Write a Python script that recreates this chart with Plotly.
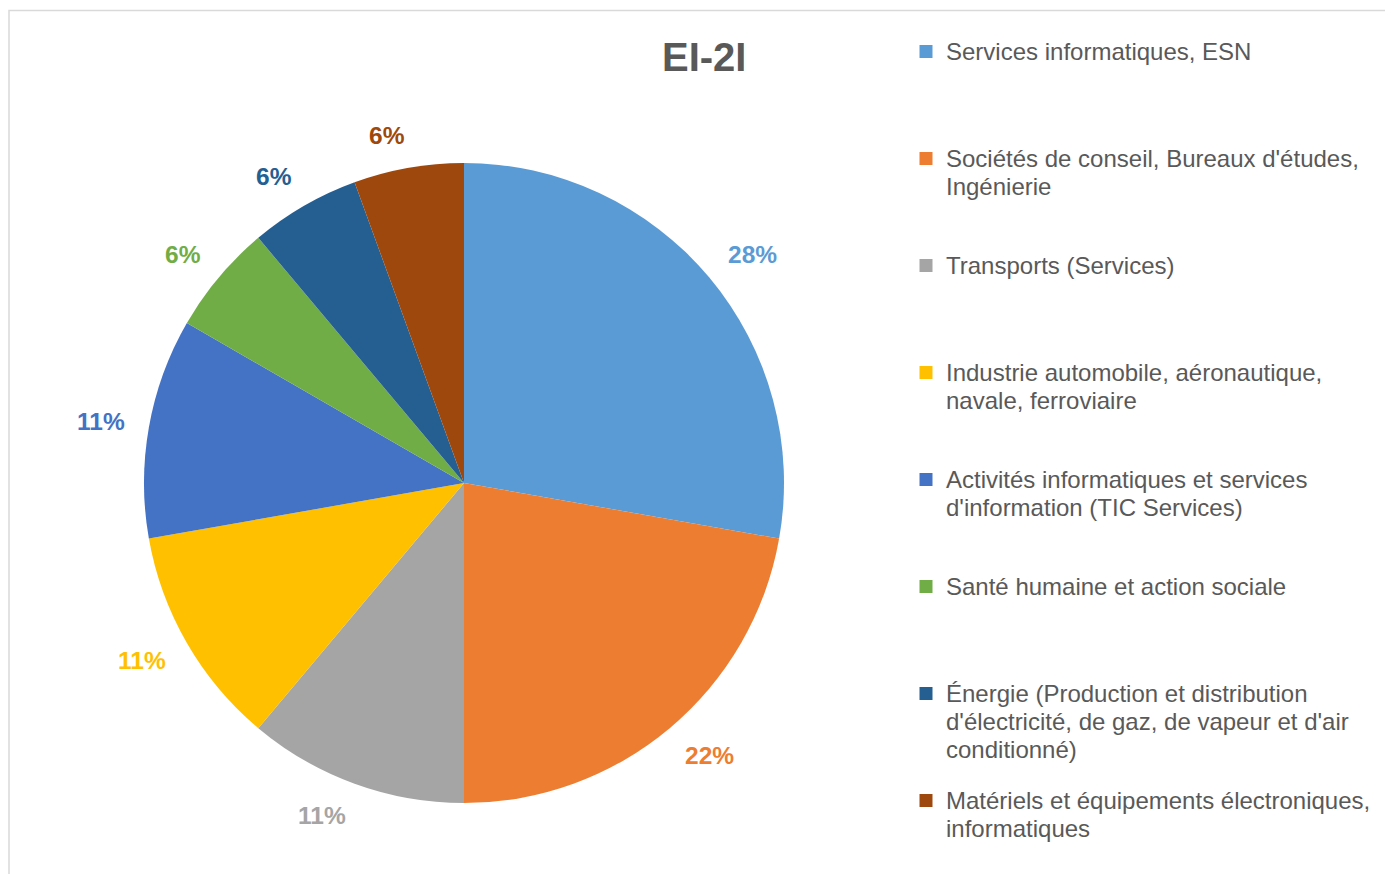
import math
import plotly.graph_objects as go

# ---- data ----
categories = [
    "Services informatiques, ESN",
    "Sociétés de conseil, Bureaux d'études,<br>Ingénierie",
    "Transports (Services)",
    "Industrie automobile, aéronautique,<br>navale, ferroviaire",
    "Activités informatiques et services<br>d'information (TIC Services)",
    "Santé humaine et action sociale",
    "Énergie (Production et distribution<br>d'électricité, de gaz, de vapeur et d'air<br>conditionné)",
    "Matériels et équipements électroniques,<br>informatiques",
]
counts = [5, 4, 2, 2, 2, 1, 1, 1]
colors = ["#5B9BD5", "#ED7D31", "#A5A5A5", "#FFC000",
          "#4472C4", "#70AD47", "#255E91", "#9E480E"]
title_text = "EI-2I"

# ---- layout geometry (page pixels) ----
W, H = 1393, 874
OFF = 8                         # page body margin
CX, CY, R = 464, 483, 320      # pie centre / radius on the page
FONT = "Liberation Sans, Arial, sans-serif"
GREY = "#595959"


def px_x(x):
    return (x - OFF) / W


def px_y(y):
    return 1 - (y - OFF) / H


fig = go.Figure()
fig.add_trace(go.Pie(
    labels=[c.replace("<br>", " ") for c in categories],
    values=counts,
    marker=dict(colors=colors, line=dict(width=0)),
    sort=False, direction="clockwise", rotation=0,
    textinfo="none", hoverinfo="label+percent",
    showlegend=False,
    domain=dict(x=[px_x(CX - R), px_x(CX + R)],
                y=[px_y(CY + R), px_y(CY - R)]),
))

# percentage labels outside the pie, computed from the values
total = sum(counts)
annotations = []
cum = 0
LABEL_SIZE = 24.5
D = 344
for v, col in zip(counts, colors):
    mid = (cum + v / 2) / total * 2 * math.pi
    cum += v
    pct = f"{round(v / total * 100)}%"
    w = LABEL_SIZE * (0.556 * (len(pct) - 1) + 0.889)
    h = 18
    s, c = math.sin(mid), math.cos(mid)
    ax = CX + D * s
    ay = CY - D * c
    sx = 1 if s > 1e-9 else (-1 if s < -1e-9 else 0)
    lx = ax + sx * w / 2
    ly = ay - (h / 2) * c / max(abs(s), abs(c))
    annotations.append(dict(
        x=px_x(lx), y=px_y(ly), xref="paper", yref="paper",
        text=f"<b>{pct}</b>", showarrow=False,
        xanchor="center", yanchor="middle",
        font=dict(family=FONT, size=LABEL_SIZE, color=col),
    ))

annotations.append(dict(
    x=px_x(704), y=px_y(57), xref="paper", yref="paper",
    text=f"<b>{title_text}</b>", showarrow=False,
    xanchor="center", yanchor="middle",
    font=dict(family=FONT, size=40, color=GREY),
))

# legend: one legend box per entry so spacing matches the original
legends = {}
for i, (cat, col) in enumerate(zip(categories, colors)):
    key = "legend" if i == 0 else f"legend{i + 1}"
    fig.add_trace(go.Scatter(
        x=[None], y=[None], mode="markers",
        name=f'<span style="font-size:24px">{cat}</span>',
        marker=dict(symbol="square", size=13, color=col),
        legend=key, showlegend=True, hoverinfo="skip",
    ))
    top = 31 + 107 * i
    legends[key] = dict(
        x=px_x(946 - 40), y=px_y(top), xanchor="left", yanchor="top",
        bgcolor="rgba(0,0,0,0)", borderwidth=0, valign="top",
        font=dict(family=FONT, size=21.5, color=GREY),
        itemclick=False, itemdoubleclick=False,
    )

fig.update_layout(
    width=W, height=H,
    margin=dict(l=0, r=0, t=0, b=0),
    paper_bgcolor="white", plot_bgcolor="white",
    xaxis=dict(visible=False), yaxis=dict(visible=False),
    annotations=annotations,
    shapes=[dict(type="rect", xref="paper", yref="paper",
                 x0=px_x(9), x1=1.05, y0=-0.05, y1=px_y(10.5),
                 line=dict(color="#D9D9D9", width=1.5), layer="below")],
    **legends,
)

fig.write_html("out.html")
